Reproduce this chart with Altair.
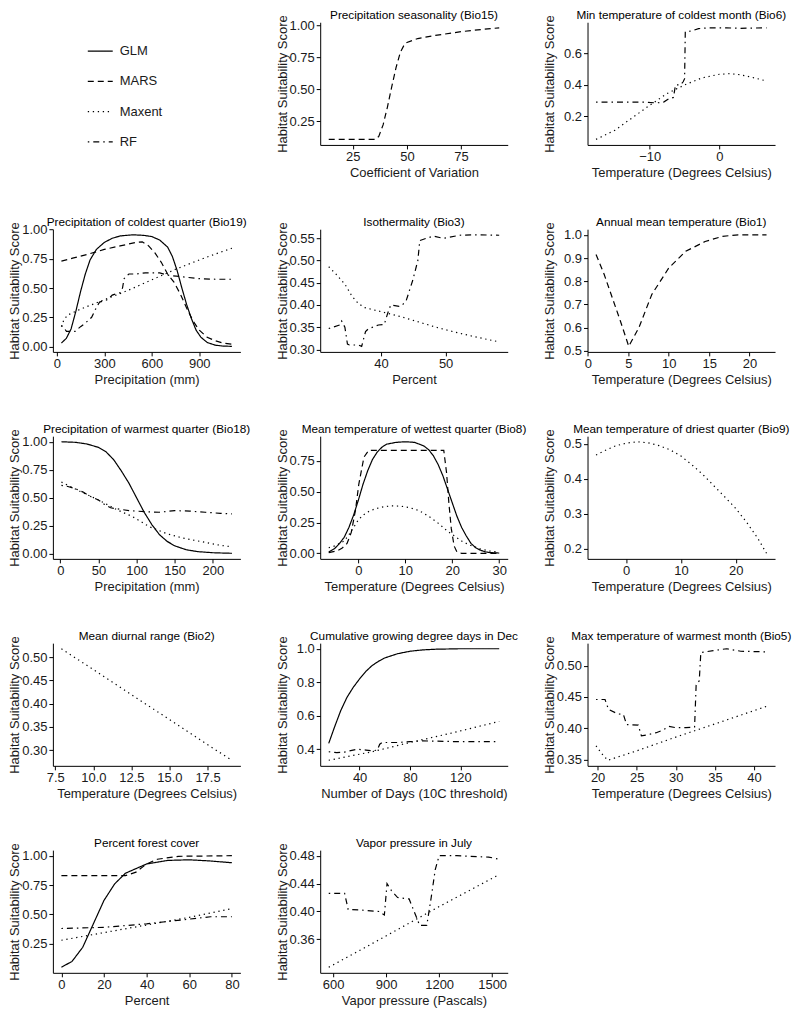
import altair as alt
import pandas as pd

MODELS = ["GLM", "MARS", "Maxent", "RF"]
DASHES = [[1, 0], [6, 4], [1.3, 3.7], [1.5, 4, 6, 4]]
FONT = "Liberation Sans"
YTITLE = "Habitat Suitability Score"

# ---- Precipitation seasonality (Bio15)
bio15_mars_x = [13.9, 20, 30, 35.5, 37, 39, 41, 43, 45, 47, 49, 50, 55, 63, 75, 85, 92.6]
bio15_mars_y = [0.107, 0.107, 0.107, 0.107, 0.13, 0.22, 0.36, 0.52, 0.67, 0.79, 0.855, 0.865, 0.896, 0.92, 0.95, 0.968, 0.98]

# ---- Min temperature of coldest month (Bio6)
bio6_maxent_x = [-17.7, -15, -12.5, -10, -7.5, -5, -2.5, 0, 1.5, 3, 5, 6.75]
bio6_maxent_y = [0.052, 0.11, 0.19, 0.27, 0.345, 0.40, 0.445, 0.468, 0.472, 0.465, 0.445, 0.425]
bio6_rf_x = [-17.7, -10.8, -9, -8, -7.3, -6.6, -6.3, -5.6, -5.2, -5.0, -4.9, -4.0, -3.0, -1.5, 1, 3, 6.75]
bio6_rf_y = [0.29, 0.29, 0.285, 0.29, 0.31, 0.32, 0.40, 0.40, 0.42, 0.44, 0.74, 0.745, 0.76, 0.765, 0.765, 0.762, 0.765]

# ---- Precipitation of coldest quarter (Bio19)
bio19_glm_x = [29, 60, 90, 120, 150, 180, 210, 250, 300, 350, 400, 480, 550, 600, 650, 700, 730, 760, 790, 820, 850, 880, 910, 950, 1000, 1050, 1106]
bio19_glm_y = [0.03, 0.07, 0.15, 0.30, 0.47, 0.62, 0.74, 0.83, 0.89, 0.925, 0.945, 0.955, 0.95, 0.94, 0.91, 0.85, 0.77, 0.65, 0.50, 0.36, 0.24, 0.14, 0.08, 0.035, 0.012, 0.004, 0.002]
bio19_mars_x = [29, 100, 200, 300, 400, 500, 540, 580, 620, 660, 700, 740, 780, 820, 860, 900, 950, 1000, 1050, 1106]
bio19_mars_y = [0.73, 0.755, 0.79, 0.83, 0.86, 0.89, 0.895, 0.86, 0.80, 0.72, 0.62, 0.55, 0.45, 0.33, 0.22, 0.14, 0.08, 0.05, 0.03, 0.02]
bio19_maxent_x = [29, 45, 70, 150, 300, 450, 600, 750, 900, 1000, 1106]
bio19_maxent_y = [0.17, 0.23, 0.27, 0.32, 0.40, 0.48, 0.57, 0.66, 0.74, 0.79, 0.84]
bio19_rf_x = [29, 45, 61, 90, 115, 150, 180, 220, 245, 270, 320, 350, 400, 415, 425, 455, 500, 560, 650, 700, 800, 900, 1000, 1106]
bio19_rf_y = [0.18, 0.16, 0.13, 0.13, 0.13, 0.17, 0.20, 0.25, 0.32, 0.38, 0.40, 0.44, 0.46, 0.50, 0.58, 0.62, 0.62, 0.63, 0.63, 0.61, 0.595, 0.58, 0.575, 0.575]

# ---- Isothermality (Bio3)
bio3_maxent_x = [31.9, 33, 34.4, 35.5, 36.5, 37.5, 40, 43, 46, 49, 52, 55, 58.3]
bio3_maxent_y = [0.486, 0.47, 0.447, 0.42, 0.403, 0.394, 0.385, 0.374, 0.361, 0.348, 0.337, 0.327, 0.317]
bio3_rf_x = [31.9, 33.6, 33.9, 34.4, 34.8, 35.1, 36.5, 37.0, 37.6, 38.0, 39.6, 40.5, 41.0, 41.5, 42.8, 43.3, 43.9, 44.9, 45.7, 46.0, 47.0, 48.1, 49.6, 52.2, 54.3, 58.3]
bio3_rf_y = [0.347, 0.355, 0.364, 0.35, 0.312, 0.31, 0.31, 0.307, 0.34, 0.346, 0.355, 0.356, 0.38, 0.40, 0.397, 0.40, 0.41, 0.455, 0.50, 0.545, 0.55, 0.555, 0.55, 0.557, 0.558, 0.557]

# ---- Annual mean temperature (Bio1)
bio1_mars_x = [1.0, 2.0, 3.0, 4.0, 5.05, 6.3, 7.9, 10.0, 12.1, 14.5, 16.6, 18.6, 22.1]
bio1_mars_y = [0.915, 0.83, 0.73, 0.63, 0.52, 0.60, 0.743, 0.857, 0.929, 0.971, 0.993, 1.0, 1.0]

# ---- Precipitation of warmest quarter (Bio18)
bio18_glm_x = [1.5, 20, 35, 50, 60, 70, 80, 90, 100, 110, 120, 130, 140, 150, 165, 180, 200, 225]
bio18_glm_y = [1.0, 0.995, 0.98, 0.95, 0.91, 0.84, 0.74, 0.63, 0.50, 0.37, 0.26, 0.17, 0.11, 0.07, 0.035, 0.018, 0.008, 0.003]
bio18_maxent_x = [1.5, 25, 50, 75, 95, 117, 139, 160, 183, 205, 225]
bio18_maxent_y = [0.64, 0.56, 0.48, 0.39, 0.33, 0.24, 0.18, 0.14, 0.11, 0.08, 0.06]
bio18_rf_x = [1.5, 10, 20, 30, 40, 50, 58, 66, 75, 90, 110, 130, 150, 170, 190, 210, 225]
bio18_rf_y = [0.61, 0.60, 0.58, 0.55, 0.51, 0.48, 0.44, 0.41, 0.40, 0.385, 0.375, 0.37, 0.385, 0.38, 0.37, 0.36, 0.355]

# ---- Mean temperature of wettest quarter (Bio8)
bio8_glm_x = [-6.3, -5, -4, -3, -2, -1, 0, 1, 2, 3, 4, 5, 6, 8, 10, 12, 14, 15, 16, 17, 18, 19, 20, 21, 22, 23, 24, 25, 26, 27, 28, 30]
bio8_glm_y = [0.01, 0.04, 0.08, 0.13, 0.21, 0.31, 0.43, 0.56, 0.67, 0.76, 0.82, 0.86, 0.885, 0.90, 0.905, 0.90, 0.87, 0.84, 0.79, 0.72, 0.63, 0.52, 0.41, 0.30, 0.21, 0.14, 0.08, 0.045, 0.025, 0.012, 0.006, 0.002]
bio8_mars_x = [-6.3, -4.5, -3.5, -2.4, -1.5, -0.6, 0.1, 1.2, 2.2, 18.2, 18.8, 19.3, 19.8, 20.4, 21, 22, 30]
bio8_mars_y = [0.005, 0.02, 0.04, 0.08, 0.17, 0.35, 0.56, 0.78, 0.835, 0.835, 0.65, 0.40, 0.20, 0.06, 0.01, 0.0, 0.0]
bio8_maxent_x = [-6.3, -5, -3, -2, -1, 0, 1, 2, 3.5, 5, 7, 9, 11, 13, 15, 17, 19, 20.5, 22, 23.5, 26, 28, 30]
bio8_maxent_y = [0.045, 0.06, 0.10, 0.15, 0.21, 0.27, 0.31, 0.335, 0.36, 0.375, 0.385, 0.383, 0.37, 0.345, 0.30, 0.245, 0.18, 0.14, 0.10, 0.07, 0.035, 0.018, 0.01]

# ---- Mean temperature of driest quarter (Bio9)
bio9_maxent_x = [-5.5, -4, -2, 0, 2, 4, 6, 8, 10, 12, 14, 16, 18, 20, 22, 24, 25.6]
bio9_maxent_y = [0.468, 0.48, 0.494, 0.502, 0.506, 0.503, 0.495, 0.483, 0.465, 0.44, 0.412, 0.38, 0.348, 0.315, 0.275, 0.23, 0.187]

# ---- Mean diurnal range (Bio2)
bio2_maxent_x = [7.9, 10, 12, 14, 16, 18, 19.1]
bio2_maxent_y = [0.518, 0.473, 0.43, 0.387, 0.344, 0.301, 0.278]

# ---- Cumulative growing degree days in Dec
gdd_glm_x = [15.5, 20, 25, 30, 35, 40, 45, 50, 55, 60, 70, 80, 90, 100, 120, 150.8]
gdd_glm_y = [0.435, 0.53, 0.63, 0.71, 0.77, 0.82, 0.865, 0.90, 0.925, 0.945, 0.97, 0.985, 0.993, 0.997, 1.0, 1.0]
gdd_maxent_x = [15.5, 50, 80, 115, 150.8]
gdd_maxent_y = [0.334, 0.385, 0.44, 0.50, 0.566]
gdd_rf_x = [15.5, 22, 28, 32, 38, 45, 50, 54, 56, 58, 70, 80, 90, 100, 120, 150.8]
gdd_rf_y = [0.385, 0.38, 0.383, 0.39, 0.40, 0.395, 0.39, 0.395, 0.43, 0.44, 0.44, 0.445, 0.45, 0.448, 0.445, 0.445]

# ---- Max temperature of warmest month (Bio5)
bio5_maxent_x = [19.8, 20.5, 21.3, 25, 30, 35, 41.6]
bio5_maxent_y = [0.372, 0.36, 0.349, 0.364, 0.386, 0.407, 0.435]
bio5_rf_x = [19.8, 20.95, 21.4, 22.6, 23.3, 23.7, 25.2, 25.6, 26.5, 27.5, 28.3, 29.1, 30, 31.3, 32.4, 32.6, 33.0, 33.2, 34.8, 36.5, 38.3, 41.6]
bio5_rf_y = [0.446, 0.446, 0.43, 0.423, 0.422, 0.406, 0.405, 0.388, 0.39, 0.393, 0.397, 0.403, 0.401, 0.401, 0.402, 0.469, 0.476, 0.521, 0.524, 0.527, 0.523, 0.522]

# ---- Percent forest cover
forest_glm_x = [0, 5, 10, 15, 20, 25, 30, 40, 50, 60, 70, 80]
forest_glm_y = [0.05, 0.10, 0.22, 0.42, 0.62, 0.76, 0.85, 0.93, 0.96, 0.965, 0.955, 0.94]
forest_mars_x = [0, 30, 35, 40, 45, 55, 80]
forest_mars_y = [0.83, 0.83, 0.86, 0.93, 0.97, 0.995, 1.0]
forest_maxent_x = [0, 20, 40, 60, 80]
forest_maxent_y = [0.28, 0.345, 0.41, 0.475, 0.55]
forest_rf_x = [0, 20, 40, 60, 70, 80]
forest_rf_y = [0.38, 0.39, 0.42, 0.46, 0.48, 0.48]

# ---- Vapor pressure in July
vapor_maxent_x = [575, 800, 1000, 1200, 1400, 1540]
vapor_maxent_y = [0.32, 0.351, 0.379, 0.407, 0.434, 0.453]
vapor_rf_x = [575, 665, 685, 760, 860, 890, 905, 930, 965, 1030, 1090, 1130, 1155, 1178, 1200, 1300, 1480, 1540]
vapor_rf_y = [0.426, 0.426, 0.403, 0.402, 0.40, 0.395, 0.44, 0.43, 0.42, 0.418, 0.38, 0.38, 0.42, 0.46, 0.48, 0.48, 0.478, 0.475]

PANELS = [
    dict(title="Precipitation seasonality (Bio15)", xlab="Coefficient of Variation",
         xticks=[25, 50, 75], xfmt="d", yticks=[0.25, 0.5, 0.75, 1.0], yfmt=".2f",
         series=[("MARS", bio15_mars_x, bio15_mars_y)]),
    dict(title="Min temperature of coldest month (Bio6)", xlab="Temperature (Degrees Celsius)",
         xticks=[-10, 0], xfmt="d", yticks=[0.2, 0.4, 0.6], yfmt=".1f",
         series=[("Maxent", bio6_maxent_x, bio6_maxent_y), ("RF", bio6_rf_x, bio6_rf_y)]),
    dict(title="Precipitation of coldest quarter (Bio19)", xlab="Precipitation (mm)",
         xticks=[0, 300, 600, 900], xfmt="d", yticks=[0, 0.25, 0.5, 0.75, 1.0], yfmt=".2f",
         series=[("GLM", bio19_glm_x, bio19_glm_y), ("MARS", bio19_mars_x, bio19_mars_y),
                 ("Maxent", bio19_maxent_x, bio19_maxent_y), ("RF", bio19_rf_x, bio19_rf_y)]),
    dict(title="Isothermality (Bio3)", xlab="Percent",
         xticks=[40, 50], xfmt="d", yticks=[0.30, 0.35, 0.40, 0.45, 0.50, 0.55], yfmt=".2f",
         series=[("Maxent", bio3_maxent_x, bio3_maxent_y), ("RF", bio3_rf_x, bio3_rf_y)]),
    dict(title="Annual mean temperature (Bio1)", xlab="Temperature (Degrees Celsius)",
         xticks=[0, 5, 10, 15, 20], xfmt="d", yticks=[0.5, 0.6, 0.7, 0.8, 0.9, 1.0], yfmt=".1f",
         series=[("MARS", bio1_mars_x, bio1_mars_y)]),
    dict(title="Precipitation of warmest quarter (Bio18)", xlab="Precipitation (mm)",
         xticks=[0, 50, 100, 150, 200], xfmt="d", yticks=[0, 0.25, 0.5, 0.75, 1.0], yfmt=".2f",
         series=[("GLM", bio18_glm_x, bio18_glm_y), ("Maxent", bio18_maxent_x, bio18_maxent_y),
                 ("RF", bio18_rf_x, bio18_rf_y)]),
    dict(title="Mean temperature of wettest quarter (Bio8)", xlab="Temperature (Degrees Celsius)",
         xticks=[0, 10, 20, 30], xfmt="d", yticks=[0, 0.25, 0.5, 0.75], yfmt=".2f",
         series=[("GLM", bio8_glm_x, bio8_glm_y), ("MARS", bio8_mars_x, bio8_mars_y),
                 ("Maxent", bio8_maxent_x, bio8_maxent_y)]),
    dict(title="Mean temperature of driest quarter (Bio9)", xlab="Temperature (Degrees Celsius)",
         xticks=[0, 10, 20], xfmt="d", yticks=[0.2, 0.3, 0.4, 0.5], yfmt=".1f",
         series=[("Maxent", bio9_maxent_x, bio9_maxent_y)]),
    dict(title="Mean diurnal range (Bio2)", xlab="Temperature (Degrees Celsius)",
         xticks=[7.5, 10, 12.5, 15, 17.5], xfmt=".1f", yticks=[0.30, 0.35, 0.40, 0.45, 0.50], yfmt=".2f",
         series=[("Maxent", bio2_maxent_x, bio2_maxent_y)]),
    dict(title="Cumulative growing degree days in Dec", xlab="Number of Days (10C threshold)",
         xticks=[40, 80, 120], xfmt="d", yticks=[0.4, 0.6, 0.8, 1.0], yfmt=".1f",
         series=[("GLM", gdd_glm_x, gdd_glm_y), ("Maxent", gdd_maxent_x, gdd_maxent_y),
                 ("RF", gdd_rf_x, gdd_rf_y)]),
    dict(title="Max temperature of warmest month (Bio5)", xlab="Temperature (Degrees Celsius)",
         xticks=[20, 25, 30, 35, 40], xfmt="d", yticks=[0.35, 0.40, 0.45, 0.50], yfmt=".2f",
         series=[("Maxent", bio5_maxent_x, bio5_maxent_y), ("RF", bio5_rf_x, bio5_rf_y)]),
    dict(title="Percent forest cover", xlab="Percent",
         xticks=[0, 20, 40, 60, 80], xfmt="d", yticks=[0.25, 0.5, 0.75, 1.0], yfmt=".2f",
         series=[("GLM", forest_glm_x, forest_glm_y), ("MARS", forest_mars_x, forest_mars_y),
                 ("Maxent", forest_maxent_x, forest_maxent_y), ("RF", forest_rf_x, forest_rf_y)]),
    dict(title="Vapor pressure in July", xlab="Vapor pressure (Pascals)",
         xticks=[600, 900, 1200, 1500], xfmt="d", yticks=[0.36, 0.40, 0.44, 0.48], yfmt=".2f",
         series=[("Maxent", vapor_maxent_x, vapor_maxent_y), ("RF", vapor_rf_x, vapor_rf_y)]),
]

PLOT_W = 188
PLOT_H = 123

DASH_SCALE = alt.Scale(domain=MODELS, range=DASHES)


def expand(vals):
    lo, hi = min(vals), max(vals)
    pad = 0.05 * (hi - lo)
    return [lo - pad, hi + pad]


def panel(p):
    rows = []
    xs_all, ys_all = [], []
    for model, xs, ys in p["series"]:
        for i, (x, y) in enumerate(zip(xs, ys)):
            rows.append({"x": x, "y": y, "model": model, "i": i})
        xs_all += xs
        ys_all += ys
    df = pd.DataFrame(rows)
    return alt.Chart(df, title=alt.Title(p["title"])).mark_line(
        color="black", strokeWidth=1.2, clip=True
    ).encode(
        x=alt.X("x:Q", scale=alt.Scale(domain=expand(xs_all), nice=False, zero=False),
                axis=alt.Axis(values=p["xticks"], format=p["xfmt"], title=p["xlab"])),
        y=alt.Y("y:Q", scale=alt.Scale(domain=expand(ys_all), nice=False, zero=False),
                axis=alt.Axis(values=p["yticks"], format=p["yfmt"], title=YTITLE)),
        strokeDash=alt.StrokeDash("model:N", scale=DASH_SCALE, legend=None),
        order="i:Q",
    ).properties(width=PLOT_W, height=PLOT_H)


# legend panel (key lines + labels) in the empty top-left cell
legend_df = pd.DataFrame({"model": MODELS, "k": list(range(len(MODELS)))})
key_y = alt.Y("k:Q", scale=alt.Scale(domain=[0, len(MODELS) - 1], range=[29, 120]), axis=None)
legend_lines = alt.Chart(legend_df).mark_rule(color="black", strokeWidth=1.2).encode(
    x=alt.value(35), x2=alt.value(60), y=key_y,
    strokeDash=alt.StrokeDash("model:N", scale=DASH_SCALE, legend=None),
)
legend_text = alt.Chart(legend_df).mark_text(
    align="left", baseline="middle", fontSize=13, font=FONT, color="#1a1a1a"
).encode(x=alt.value(67), y=key_y, text="model:N")
legend_panel = alt.layer(legend_lines, legend_text).properties(width=PLOT_W, height=PLOT_H)

charts = [legend_panel] + [panel(p) for p in PANELS]

chart = alt.concat(*charts, columns=3, spacing={"row": 84.5, "column": 80}, bounds="flush").properties(
    padding={"left": 0, "top": 0, "right": 0, "bottom": 0}
).configure_view(stroke=None).configure_axis(
    grid=False, domainColor="black", tickColor="black", labelColor="#1a1a1a",
    titleColor="#1a1a1a", labelFont=FONT, titleFont=FONT, labelFontSize=13,
    titleFontSize=13, titleFontWeight="normal", tickSize=4, labelPadding=2,
    titlePadding=3, domainWidth=1, tickWidth=1, labelFlush=False
).configure_axisY(titleFontSize=13, minExtent=30, maxExtent=30, titlePadding=1).configure_title(
    font=FONT, fontSize=11.8, fontWeight="normal", anchor="middle", frame="group",
    offset=-7, color="black"
)

chart.save("out.html", embed_options={"renderer": "svg", "actions": False})
